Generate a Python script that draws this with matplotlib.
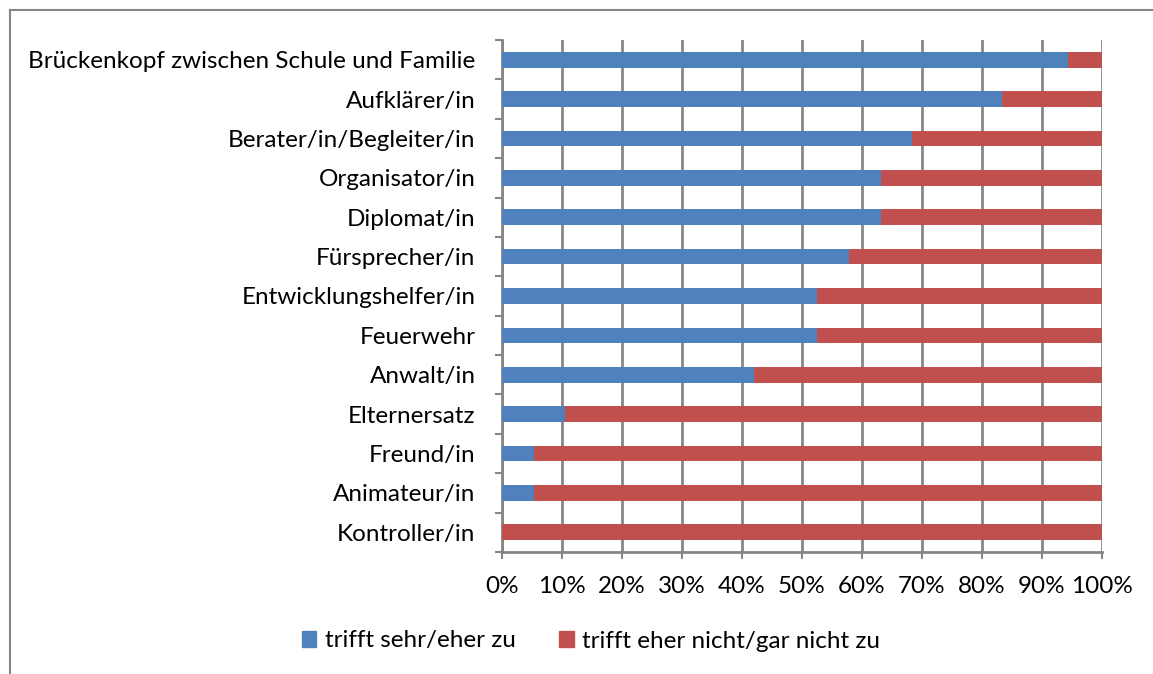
import numpy as np
import matplotlib.pyplot as plt
from matplotlib.lines import Line2D

# Data (top to bottom)
categories = [
    "Brückenkopf zwischen Schule und Familie",
    "Aufklärer/in",
    "Berater/in/Begleiter/in",
    "Organisator/in",
    "Diplomat/in",
    "Fürsprecher/in",
    "Entwicklungshelfer/in",
    "Feuerwehr",
    "Anwalt/in",
    "Elternersatz",
    "Freund/in",
    "Animateur/in",
    "Kontroller/in",
]
zu = [94.4, 83.3, 68.4, 63.2, 63.2, 57.9, 52.6, 52.6, 42.1, 10.5, 5.3, 5.3, 0.0]
nicht_zu = [100 - v for v in zu]
series_names = ["trifft sehr/eher zu", "trifft eher nicht/gar nicht zu"]

blue = "#4F81BD"
red = "#C0504D"
grey = "#868686"
fs = 17.5

plt.rcParams['font.family'] = ['Lato', 'DejaVu Sans']

W, H = 1153, 674
fig = plt.figure(figsize=(W / 100, H / 100), dpi=100)
ax = fig.add_axes([502 / W, 1 - 552 / H, 599.7 / W, 512 / H])

n = len(categories)
y = np.arange(n)[::-1]
ax.barh(y, zu, height=0.4, color=blue, zorder=3)
ax.barh(y, nicht_zu, left=zu, height=0.4, color=red, zorder=3)

ax.set_xlim(0, 100)
ax.set_ylim(-0.5, n - 0.5)

# x axis
ax.set_xticks(np.arange(0, 101, 10))
ax.set_xticklabels([f"{v}%" for v in range(0, 101, 10)])
ax.xaxis.grid(True, color=grey, linewidth=2, zorder=0)
ax.tick_params(axis='x', length=5, width=1.5, color=grey, labelsize=fs, pad=12)

# y axis: labels at centres, tick marks at category boundaries
ax.set_yticks(y)
ax.set_yticklabels(categories)
ax.set_yticks(np.arange(n + 1) - 0.5, minor=True)
ax.tick_params(axis='y', which='major', length=0, labelsize=fs, pad=19)
ax.tick_params(axis='y', which='minor', length=5, width=1.5, color=grey)

for s in ['top', 'right']:
    ax.spines[s].set_visible(False)
for s in ['left', 'bottom']:
    ax.spines[s].set_color(grey)
    ax.spines[s].set_linewidth(2)

# legend
handles = [plt.Rectangle((0, 0), 1, 1, color=blue), plt.Rectangle((0, 0), 1, 1, color=red)]
fig.legend(handles, series_names, loc='center', bbox_to_anchor=(591 / W, 1 - 641 / H),
           ncol=2, frameon=False, fontsize=fs, handlelength=0.6, handleheight=0.6,
           handletextpad=0.35, columnspacing=1.8)

# outer chart frame (partially cut off)
fig.add_artist(Line2D([9.5 / W, 9.5 / W], [0, 1 - 10 / H], color=grey, linewidth=1.5))
fig.add_artist(Line2D([9.5 / W, 1], [1 - 10 / H, 1 - 10 / H], color=grey, linewidth=1.5))

fig.savefig("out.png", dpi=100)
